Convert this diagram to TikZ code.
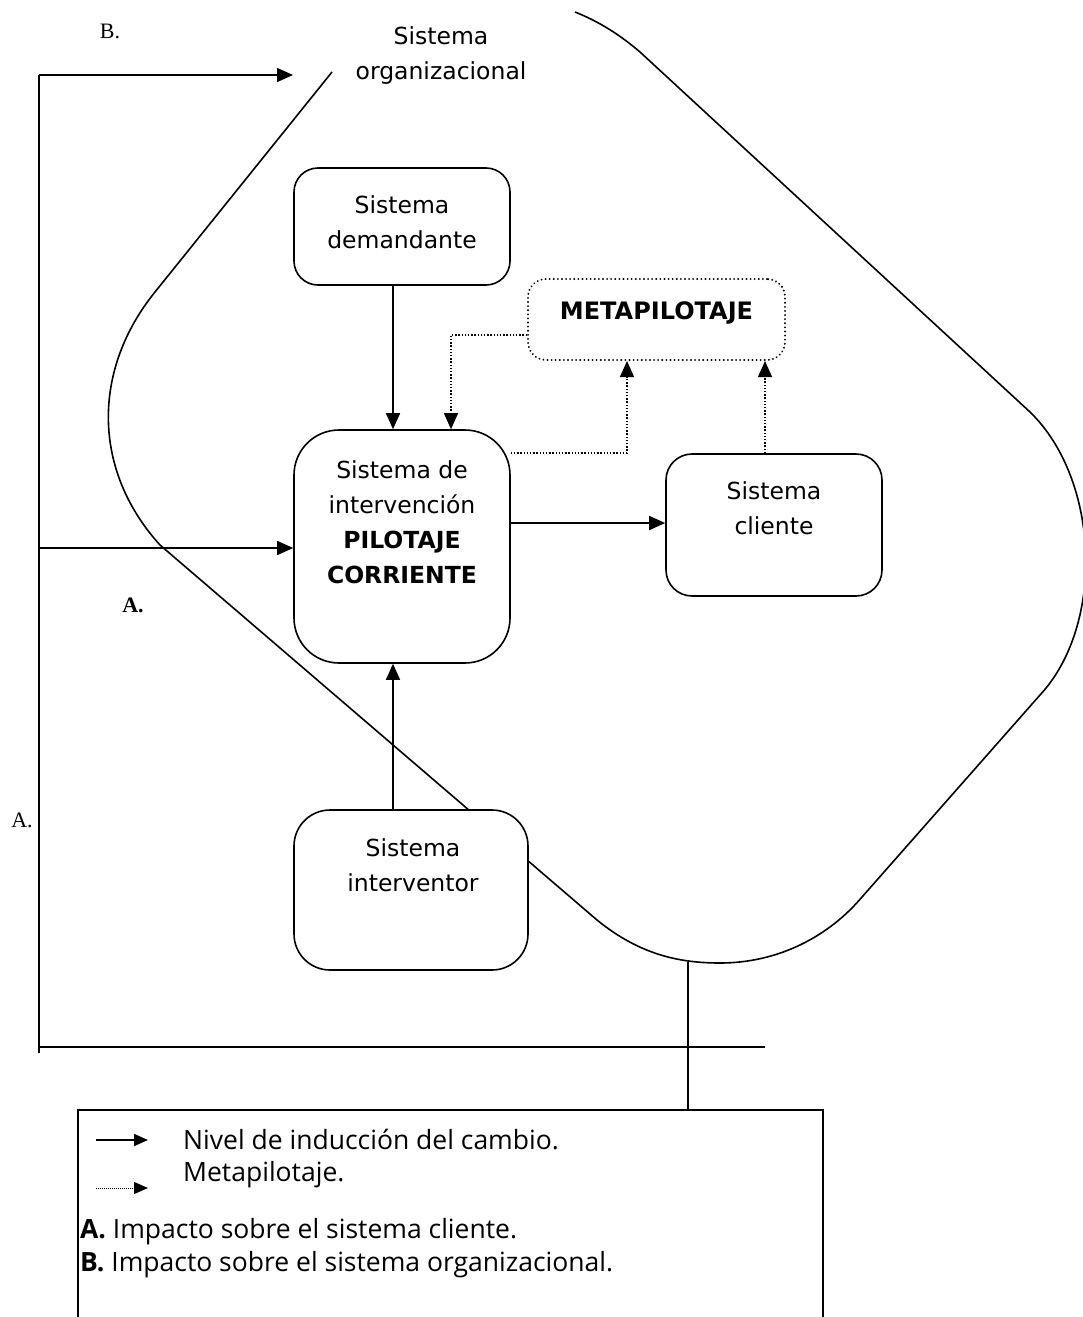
\documentclass[tikz,border=0pt]{standalone}
\usepackage{fontspec}
\setmainfont{DejaVu Sans}
\newfontfamily\boxfont{DejaVu Sans}
\newfontfamily\legfont{Open Sans}
\newfontfamily\serfont{Liberation Serif}
\usetikzlibrary{arrows.meta}
\begin{document}
\begin{tikzpicture}[x=1pt,y=-1pt,
  lw/.style={line width=1.6pt},
  sbox/.style={draw, lw, fill=white, inner sep=0pt},
  lbl/.style={font=\boxfont\fontsize{23.5}{35}\selectfont, align=center, inner sep=0pt},
  arr/.style={lw, -{Triangle[length=16pt,width=14pt]}},
  dotarr/.style={line width=1.4pt, dash pattern=on 1.4pt off 1.8pt, -{Triangle[length=16pt,width=14pt]}},
  ser/.style={font=\serfont\fontsize{22}{26}\selectfont, inner sep=0pt},
  legt/.style={font=\legfont\fontsize{26.5}{30}\selectfont, inner sep=0pt, anchor=base west}
]
\useasboundingbox (0,0) rectangle (1083,1317);
\fill[white] (0,0) rectangle (1083,1317);

% big organisational curve
\draw[lw] (332,72) -- (155,292) .. controls (92,370) and (92,470) .. (160,545)
  -- (597,920) .. controls (640,955) and (680,963) .. (720,963)
  .. controls (780,963) and (830,935) .. (862,897)
  -- (1040,695) .. controls (1105,625) and (1100,480) .. (1030,412)
  -- (640,52) .. controls (620,35) and (600,22) .. (575,12);

% nodes
\node[sbox, rounded corners=24pt, minimum width=216pt, minimum height=117pt] (dem) at (402,226.5) {};
\node[lbl] (demt) at (402,222) {Sistema\\demandante};

\node[draw, line width=2pt, dash pattern=on 0.1pt off 4pt, line cap=round, rounded corners=18pt, fill=white,
  minimum width=257pt, minimum height=81pt, inner sep=0pt] (meta) at (656.5,319.5) {};
\node[lbl, font=\boxfont\bfseries\fontsize{24}{35}\selectfont] (metat) at (656.5,313) {METAPILOTAJE};

\node[sbox, rounded corners=45pt, minimum width=216pt, minimum height=233pt] (pil) at (402,546.5) {};
\node[lbl] (pilt) at (402,522) {Sistema de\\intervención\\\textbf{PILOTAJE}\\\textbf{CORRIENTE}};

\node[sbox, rounded corners=26pt, minimum width=216pt, minimum height=142pt] (cli) at (774,525) {};
\node[lbl] (clit) at (774,508) {Sistema\\cliente};

\node[sbox, rounded corners=36pt, minimum width=234pt, minimum height=160pt] (int) at (411,890) {};
\node[lbl] (intt) at (413,865) {Sistema\\interventor};

\node[lbl] (org) at (441,56) {Sistema\\organizacional};

% serif labels
\node[ser] (lb) at (110,31) {B.};
\node[ser, font=\serfont\bfseries\fontsize{22}{26}\selectfont] (la1) at (133,605) {A.};
\node[ser] (la2) at (22,820) {A.};

% connectors
\coordinate (vx) at (393,0);
\draw[arr] (dem.south -| vx) -- (pil.north -| vx);
\draw[arr] (int.north -| vx) -- (pil.south -| vx);
\draw[arr] (pil.east |- 0,523) -- (cli.west |- 0,523);

\coordinate (mL) at (meta.west |- 0,335);
\coordinate (mD) at (451,335);
\draw[dotarr] (mL) -- (mD) -- (mD |- pil.north);
\coordinate (pR) at (pil.east |- 0,453);
\coordinate (pM) at (627,453);
\draw[dotarr] (pR) -- (pM) -- (pM |- meta.south);
\draw[dotarr] (cli.north -| 765,0) -- (meta.south -| 765,0);

% left frame
\coordinate (ftop) at (39,75);
\coordinate (fmid) at (39,548);
\coordinate (fbot) at (39,1053);
\coordinate (hbl) at (39,1047);
\coordinate (hbr) at (765,1047);
\coordinate (orgarr) at (293,75);
\draw[lw] (ftop) -- (fbot);
\draw[arr] (ftop) -- (orgarr);
\draw[arr] (fmid) -- (pil.west |- fmid);
\draw[lw] (hbl) -- (hbr);

% legend box
\coordinate (cb) at (688,962);
\coordinate (lgA) at (78,1317);
\coordinate (lgB) at (78,1110);
\coordinate (lgC) at (823,1110);
\coordinate (lgD) at (823,1317);
\draw[lw] (lgA) -- (lgB) -- (lgC) -- (lgD);
\draw[lw] (cb) -- (cb |- lgB);

\coordinate (k1a) at (96,1140);
\coordinate (k1b) at (148,1140);
\coordinate (k2a) at (96,1188);
\coordinate (k2b) at (148,1188);
\draw[lw, -{Triangle[length=14pt,width=12pt]}] (k1a) -- (k1b);
\draw[line width=1pt, dash pattern=on 1pt off 1pt, -{Triangle[length=14pt,width=12pt]}] (k2a) -- (k2b);

\node[legt] (l1) at (183,1149) {Nivel de inducción del cambio.};
\node[legt] (l2) at (183,1181) {Metapilotaje.};
\node[legt] (l3) at (80,1238) {\textbf{A.} Impacto sobre el sistema cliente.};
\node[legt] (l4) at (80,1271) {\textbf{B.} Impacto sobre el sistema organizacional.};
\end{tikzpicture}
\end{document}
